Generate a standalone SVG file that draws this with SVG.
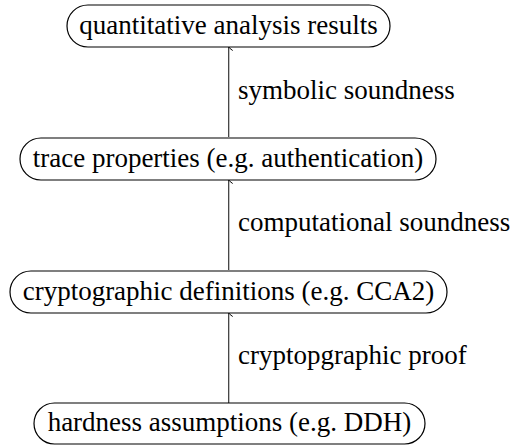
<svg xmlns="http://www.w3.org/2000/svg" width="516" height="445" viewBox="0 0 516 445">
<style>
.n{fill:#fff;stroke:#000;stroke-width:1.2}
text{font-family:"Liberation Serif","Times New Roman",Times,serif;font-size:27px;fill:#000}
.c{text-anchor:middle}
.e{stroke:#333;stroke-width:1.2;fill:none}
</style>
<defs>
<marker id="ah" markerWidth="10" markerHeight="10" refX="5" refY="1" orient="auto-start-reverse" markerUnits="userSpaceOnUse" viewBox="0 0 10 10">
<path d="M1.5,5 Q3.5,2 5,1 Q6.5,2 8.5,5" fill="none" stroke="#000" stroke-width="1"/>
</marker>
</defs>
<g id="edges">
<line class="e" x1="228.7" y1="137" x2="228.7" y2="47" marker-end="url(#ah)"/>
<line class="e" x1="228.7" y1="270" x2="228.7" y2="180" marker-end="url(#ah)"/>
<line class="e" x1="228.7" y1="403" x2="228.7" y2="313" marker-end="url(#ah)"/>
<text x="238" y="99">symbolic soundness</text>
<text x="238" y="231">computational soundness</text>
<text x="238" y="364">cryptopgraphic proof</text>
</g>
<g id="n1">
<rect class="n" x="67" y="5" width="323" height="42" rx="21"/>
<text class="c" x="228.5" y="34">quantitative analysis results</text>
</g>
<g id="n2">
<rect class="n" x="20" y="138" width="416" height="42" rx="21"/>
<text class="c" x="228" y="167">trace properties (e.g. authentication)</text>
</g>
<g id="n3">
<rect class="n" x="10" y="271" width="437" height="42" rx="21"/>
<text class="c" x="228.5" y="300">cryptographic definitions (e.g. CCA2)</text>
</g>
<g id="n4">
<rect class="n" x="34" y="403" width="391" height="41" rx="20.5"/>
<text class="c" x="229.5" y="431">hardness assumptions (e.g. DDH)</text>
</g>
</svg>
